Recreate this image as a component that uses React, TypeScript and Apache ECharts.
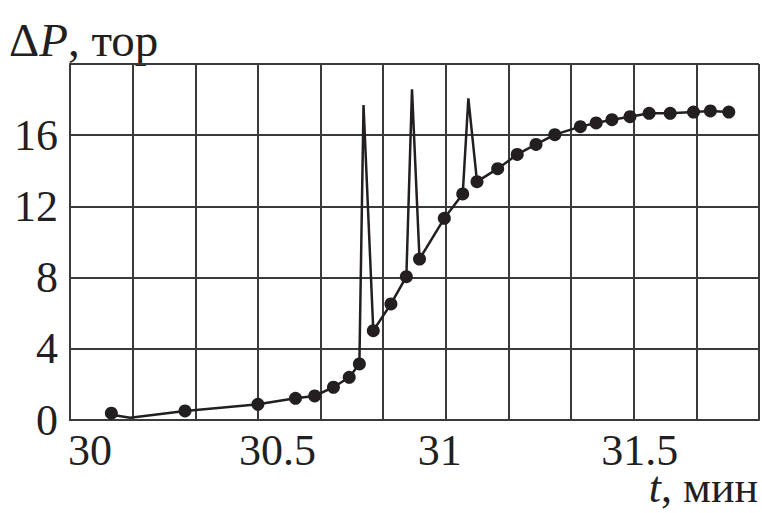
import React, { useEffect, useRef } from "react";
import * as echarts from "echarts";

// Measured points (t, min; ΔP, torr)
const dotT = [30.11, 30.306, 30.5, 30.6, 30.651, 30.701, 30.743, 30.77, 30.807, 30.854, 30.895, 30.93, 30.996, 31.045, 31.083, 31.138, 31.19, 31.24, 31.29, 31.358, 31.4, 31.442, 31.49, 31.541, 31.597, 31.659, 31.704, 31.753];
const dotP = [0.38, 0.51, 0.88, 1.22, 1.35, 1.84, 2.4, 3.15, 5.02, 6.52, 8.05, 9.04, 11.33, 12.7, 13.39, 14.12, 14.92, 15.48, 16.03, 16.48, 16.69, 16.87, 17.04, 17.23, 17.23, 17.3, 17.36, 17.3];

// Curve (with pressure spikes, no markers)
const lineT = [30.11, 30.16, 30.306, 30.5, 30.6, 30.651, 30.701, 30.743, 30.77, 30.781, 30.807, 30.854, 30.895, 30.91, 30.93, 30.996, 31.045, 31.06, 31.083, 31.138, 31.19, 31.24, 31.29, 31.358, 31.4, 31.442, 31.49, 31.541, 31.597, 31.659, 31.704, 31.753];
const lineP = [0.3, 0.13, 0.51, 0.88, 1.22, 1.35, 1.84, 2.4, 3.15, 17.7, 5.02, 6.52, 8.05, 18.58, 9.04, 11.33, 12.7, 18.07, 13.39, 14.12, 14.92, 15.48, 16.03, 16.48, 16.69, 16.87, 17.04, 17.23, 17.23, 17.3, 17.36, 17.3];

const xTickLabels = ["30", "30.5", "31", "31.5"];
const yTickLabels = ["0", "4", "8", "12", "16"];

const INK = "#231f20";
const GRIDC = "#3a3a3a";
const FONT = "Liberation Serif";

export default function App() {
  const ref = useRef<HTMLDivElement>(null);
  useEffect(() => {
    if (!ref.current) return;
    const chart = echarts.init(ref.current, undefined, { renderer: "svg" });
    const base = { fontFamily: FONT, fontSize: 44, color: INK, lineHeight: 40 };
    const richX: any = {
      a0: { ...base, padding: [0, 0, 0, 40] },
      a1: { ...base, padding: [0, 0, 0, 39] },
      a2: { ...base, padding: [0, 12, 0, 0] },
      a3: { ...base, padding: [0, 0, 0, 12] },
    };
    chart.setOption({
      animation: false,
      backgroundColor: "#ffffff",
      grid: { left: 70, right: 2, top: 64, bottom: 93, containLabel: false },
      xAxis: {
        type: "value",
        min: 30,
        max: 30 + 11 / 6,
        interval: 1 / 6,
        axisLine: { show: true, lineStyle: { color: GRIDC, width: 2 } },
        axisTick: { show: false },
        splitLine: { show: true, lineStyle: { color: GRIDC, width: 2 } },
        axisLabel: {
          margin: 10,
          showMinLabel: true,
          showMaxLabel: true,
          formatter: (v: number) => {
            const h = Math.round(v * 2) / 2;
            if (Math.abs(v - h) > 1e-6) return "";
            const idx = Math.round((h - 30) * 2);
            if (idx < 0 || idx >= xTickLabels.length) return "";
            return `{a${idx}|${xTickLabels[idx]}}`;
          },
          rich: richX,
        },
      },
      yAxis: {
        type: "value",
        min: 0,
        max: 20,
        interval: 4,
        axisLine: { show: true, lineStyle: { color: GRIDC, width: 2 } },
        axisTick: { show: false },
        splitLine: { show: true, lineStyle: { color: GRIDC, width: 2 } },
        axisLabel: {
          margin: 12,
          fontFamily: FONT,
          fontSize: 44,
          color: INK,
          formatter: (v: number) => {
            const i = Math.round(v / 4);
            return i < yTickLabels.length ? yTickLabels[i] : "";
          },
        },
      },
      graphic: [
        {
          type: "text",
          left: 9,
          top: 16,
          style: {
            text: "Δ{i|P}, тор",
            font: `47px "${FONT}"`,
            fill: INK,
            lineHeight: 40,
            rich: { i: { fontFamily: FONT, fontSize: 47, fontStyle: "italic", fill: INK, lineHeight: 40 } },
          },
        },
        {
          type: "text",
          right: 4,
          bottom: 4,
          style: {
            text: "{i|t}, мин",
            font: `44px "${FONT}"`,
            fill: INK,
            lineHeight: 38,
            rich: { i: { fontFamily: FONT, fontSize: 44, fontStyle: "italic", fill: INK, lineHeight: 38 } },
          },
        },
      ],
      series: [
        {
          type: "line",
          data: lineT.map((t, i) => [t, lineP[i]]),
          showSymbol: false,
          symbol: "none",
          lineStyle: { color: INK, width: 2.5 },
          z: 3,
        },
        {
          type: "scatter",
          data: dotT.map((t, i) => [t, dotP[i]]),
          symbol: "circle",
          symbolSize: 13,
          itemStyle: { color: INK, opacity: 1 },
          z: 4,
        },
      ],
    });
    return () => chart.dispose();
  }, []);
  return <div ref={ref} style={{ width: 762, height: 513, position: "absolute", left: 0, top: 0 }} />;
}
